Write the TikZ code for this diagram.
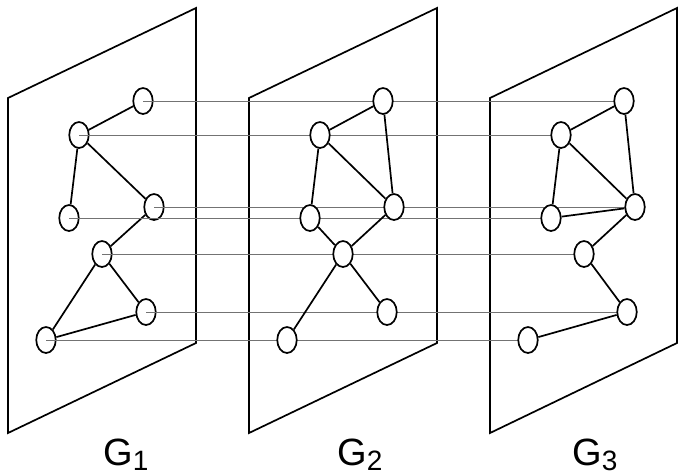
\documentclass[tikz,border=0pt]{standalone}
\usepackage{fontspec}
\setmainfont{Liberation Sans}
\usetikzlibrary{shapes.geometric}
\pgfdeclarelayer{back}
\pgfdeclarelayer{mid}
\pgfsetlayers{back,mid,main}
\tikzset{
  plane/.style={draw=black, line width=1.7pt, line join=miter},
  vtx/.style={ellipse, draw=black, fill=white, line width=1.7pt, minimum width=19.5pt, minimum height=26pt, inner sep=0pt},
  edge/.style={draw=black, line width=1.7pt},
  link/.style={draw=black!55, line width=0.9pt},
  glabel/.style={inner sep=0pt, anchor=base west, font=\fontsize{38}{38}\selectfont}
}
\newcommand{\glab}[1]{G\raisebox{-5pt}{\fontsize{28}{28}\selectfont #1}}
\begin{document}
\begin{tikzpicture}[x=1pt,y=-1pt]
\useasboundingbox (0,0) rectangle (678,475);
\begin{pgfonlayer}{back}
  \draw[plane] (8,98) -- (196,8) -- (196,343) -- (8,433) -- cycle;
  \draw[plane] (249,98) -- (437,8) -- (437,343) -- (249,433) -- cycle;
  \draw[plane] (490,98) -- (677,8) -- (677,343) -- (490,433) -- cycle;
  % G1
  \node[vtx] (a1) at (143,101) {};
  \node[vtx] (b1) at (79,135) {};
  \node[vtx] (c1) at (69,218) {};
  \node[vtx] (d1) at (154,207) {};
  \node[vtx] (e1) at (102,254) {};
  \node[vtx] (f1) at (146,312) {};
  \node[vtx] (g1) at (46,340) {};
  \draw[edge] (a1) -- (b1);
  \draw[edge] (b1) -- (c1);
  \draw[edge] (b1) -- (d1);
  \draw[edge] (d1) -- (e1);
  \draw[edge] (e1) -- (f1);
  \draw[edge] (e1) -- (g1);
  \draw[edge] (f1) -- (g1);
\end{pgfonlayer}
% G2
\node[vtx] (a2) at (383,101) {};
\node[vtx] (b2) at (320,135) {};
\node[vtx] (c2) at (310,218) {};
\node[vtx] (d2) at (394,207) {};
\node[vtx] (e2) at (343,254) {};
\node[vtx] (f2) at (387,312) {};
\node[vtx] (g2) at (287,340) {};
\draw[edge] (a2) -- (b2);
\draw[edge] (a2) -- (d2);
\draw[edge] (b2) -- (c2);
\draw[edge] (b2) -- (d2);
\draw[edge] (c2) -- (e2);
\draw[edge] (d2) -- (e2);
\draw[edge] (e2) -- (f2);
\draw[edge] (e2) -- (g2);
% G3
\node[vtx] (a3) at (624,101) {};
\node[vtx] (b3) at (561,135) {};
\node[vtx] (c3) at (551,218) {};
\node[vtx] (d3) at (635,207) {};
\node[vtx] (e3) at (584,254) {};
\node[vtx] (f3) at (627,312) {};
\node[vtx] (g3) at (528,340) {};
\draw[edge] (a3) -- (b3);
\draw[edge] (a3) -- (d3);
\draw[edge] (b3) -- (c3);
\draw[edge] (b3) -- (d3);
\draw[edge] (c3) -- (d3);
\draw[edge] (d3) -- (e3);
\draw[edge] (e3) -- (f3);
\draw[edge] (f3) -- (g3);
\begin{pgfonlayer}{mid}
  \foreach \v in {a,b,c,d,e,f,g} {
    \draw[link] (\v1.center) -- (\v3.center);
  }
\end{pgfonlayer}
% labels
\node[glabel] (l1) at (103,465) {\glab{1}};
\node[glabel] (l2) at (337,465) {\glab{2}};
\node[glabel] (l3) at (572,465) {\glab{3}};
\end{tikzpicture}
\end{document}
